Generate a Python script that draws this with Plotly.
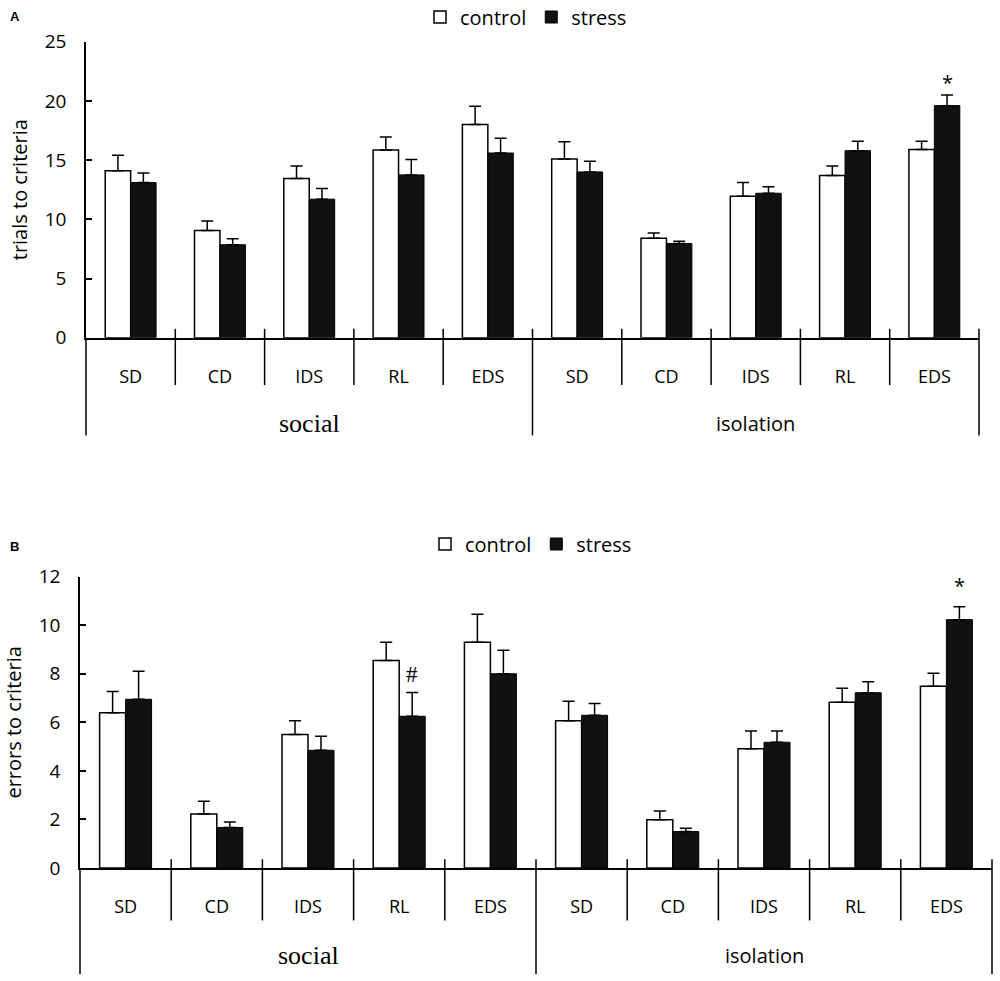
import plotly.graph_objects as go

tasks = ["SD", "CD", "IDS", "RL", "EDS"]
housing = ["social", "isolation"]
task_labels = tasks * len(housing)
positions = list(range(len(task_labels)))

# panel A: trials to criteria
trials_control = [14.1, 9.05, 13.45, 15.85, 18.0, 15.1, 8.4, 11.95, 13.7, 15.9]
trials_control_err = [1.3, 0.8, 1.05, 1.1, 1.55, 1.45, 0.45, 1.15, 0.8, 0.7]
trials_stress = [13.1, 7.85, 11.7, 13.75, 15.6, 14.0, 7.95, 12.2, 15.8, 19.6]
trials_stress_err = [0.8, 0.5, 0.9, 1.3, 1.25, 0.9, 0.2, 0.55, 0.8, 0.9]

# panel B: errors to criteria
errors_control = [6.4, 2.22, 5.5, 8.55, 9.3, 6.07, 1.99, 4.91, 6.83, 7.49]
errors_control_err = [0.87, 0.53, 0.57, 0.75, 1.15, 0.8, 0.36, 0.73, 0.57, 0.53]
errors_stress = [6.95, 1.67, 4.85, 6.25, 8.0, 6.29, 1.5, 5.18, 7.22, 10.23]
errors_stress_err = [1.16, 0.23, 0.58, 0.98, 0.97, 0.49, 0.14, 0.46, 0.45, 0.53]

SANS = "Open Sans"
SERIF = "Liberation Serif"
BARGAP = 0.43

fig = go.Figure()


def add_pair(ctrl, ctrl_err, strs, strs_err, xa, ya, legend):
    zeros = [0] * len(ctrl)
    fig.add_trace(go.Bar(
        x=positions, y=ctrl, name="control", xaxis=xa, yaxis=ya, legend=legend,
        marker=dict(color="white", line=dict(color="black", width=1.5)),
        error_y=dict(type="data", array=ctrl_err, arrayminus=zeros, symmetric=False,
                     color="black", thickness=1.5, width=6)))
    fig.add_trace(go.Bar(
        x=positions, y=strs, name="stress", xaxis=xa, yaxis=ya, legend=legend,
        marker=dict(color="#111111", line=dict(color="black", width=1)),
        error_y=dict(type="data", array=strs_err, arrayminus=zeros, symmetric=False,
                     color="black", thickness=1.5, width=6)))


add_pair(trials_control, trials_control_err, trials_stress, trials_stress_err, "x", "y", "legend")
add_pair(errors_control, errors_control_err, errors_stress, errors_stress_err, "x2", "y2", "legend2")

xcommon = dict(range=[-0.5, len(positions) - 0.5], tickmode="array", tickvals=positions,
               ticktext=task_labels, ticks="", showline=True, linecolor="black", linewidth=1.5,
               showgrid=False, zeroline=False, ticklabelstandoff=22, automargin=False,
               tickfont=dict(family=SANS, size=18, color="black"))
ycommon = dict(showline=True, linecolor="black", linewidth=1.5, ticks="inside", ticklen=6,
               tickwidth=1.5, tickcolor="black", showgrid=False, zeroline=False, automargin=False,
               ticklabelstandoff=14, tickfont=dict(family=SANS, size=19, color="black"),
               title_font=dict(family=SANS, size=20, color="black"))

fig.update_layout(
    width=1000, height=981, margin=dict(l=0, r=0, t=0, b=0, autoexpand=False),
    paper_bgcolor="white", plot_bgcolor="white",
    barmode="group", bargap=BARGAP, bargroupgap=0,
    xaxis=dict(domain=[0.086, 0.979], anchor="y", **xcommon),
    yaxis=dict(domain=[1 - 337.7 / 981, 1 - 41.7 / 981], range=[0, 25], anchor="x",
               tickvals=[0, 5, 10, 15, 20, 25],
               title=dict(text="trials to criteria", standoff=12), **ycommon),
    xaxis2=dict(domain=[0.080, 0.992], anchor="y2", **xcommon),
    yaxis2=dict(domain=[1 - 868 / 981, 1 - 576.7 / 981], range=[0, 12], anchor="x2",
                tickvals=[0, 2, 4, 6, 8, 10, 12],
                title=dict(text="errors to criteria", standoff=12), **ycommon),
    legend=dict(orientation="h", x=0.526, xanchor="center", y=1 - 17 / 981, yanchor="middle",
                font=dict(family=SANS, size=20, color="black"), itemwidth=30,
                bgcolor="rgba(0,0,0,0)"),
    legend2=dict(orientation="h", x=0.531, xanchor="center", y=1 - 544 / 981, yanchor="middle",
                 font=dict(family=SANS, size=20, color="black"), itemwidth=30,
                 bgcolor="rgba(0,0,0,0)"),
)

# separators under the category axis (short between tasks, long between housing groups)
n = len(positions)
for xa, ya, short_end, long_end in [("x", "y", -0.16, -0.33), ("x2", "y2", -0.18, -0.365)]:
    for k in range(n + 1):
        long_line = k % len(tasks) == 0
        fig.add_shape(type="line", xref=xa + " domain", yref=ya + " domain",
                      x0=k / n, x1=k / n, y0=0.03 if k > 0 else 0,
                      y1=long_end if long_line else short_end,
                      line=dict(color="black", width=1.5))
    for i, grp in enumerate(housing):
        serif = grp == "social"
        fig.add_annotation(xref=xa + " domain", yref=ya + " domain",
                           x=(i + 0.5) / len(housing), y=-0.29 if xa == "x" else -0.30,
                           text=grp, showarrow=False, xanchor="center", yanchor="middle",
                           font=dict(family=SERIF if serif else SANS, size=26 if serif else 20,
                                     color="black"))

# significance marks
off = (1 - BARGAP) / 4
fig.add_annotation(xref="x", yref="y", x=9 + off, y=trials_stress[9] + trials_stress_err[9],
                   text="*", showarrow=False, yanchor="bottom", yshift=-3,
                   font=dict(family=SANS, size=20, color="black"))
fig.add_annotation(xref="x2", yref="y2", x=9 + off, y=errors_stress[9] + errors_stress_err[9],
                   text="*", showarrow=False, yanchor="bottom", yshift=6,
                   font=dict(family=SANS, size=20, color="black"))
fig.add_annotation(xref="x2", yref="y2", x=3 + off, y=errors_stress[3] + errors_stress_err[3],
                   text="#", showarrow=False, yanchor="bottom", yshift=3,
                   font=dict(family=SERIF, size=23, color="black"))

# panel letters
for letter, ypx in [("A", 17), ("B", 546)]:
    fig.add_annotation(xref="paper", yref="paper", x=0.008, y=1 - ypx / 981, text="<b>%s</b>" % letter,
                       showarrow=False, xanchor="left", yanchor="middle",
                       font=dict(family="Liberation Sans", size=13, color="black"))

fig.write_html("out.html", config={"displayModeBar": False},
               post_script="document.body.style.margin = '0';")
